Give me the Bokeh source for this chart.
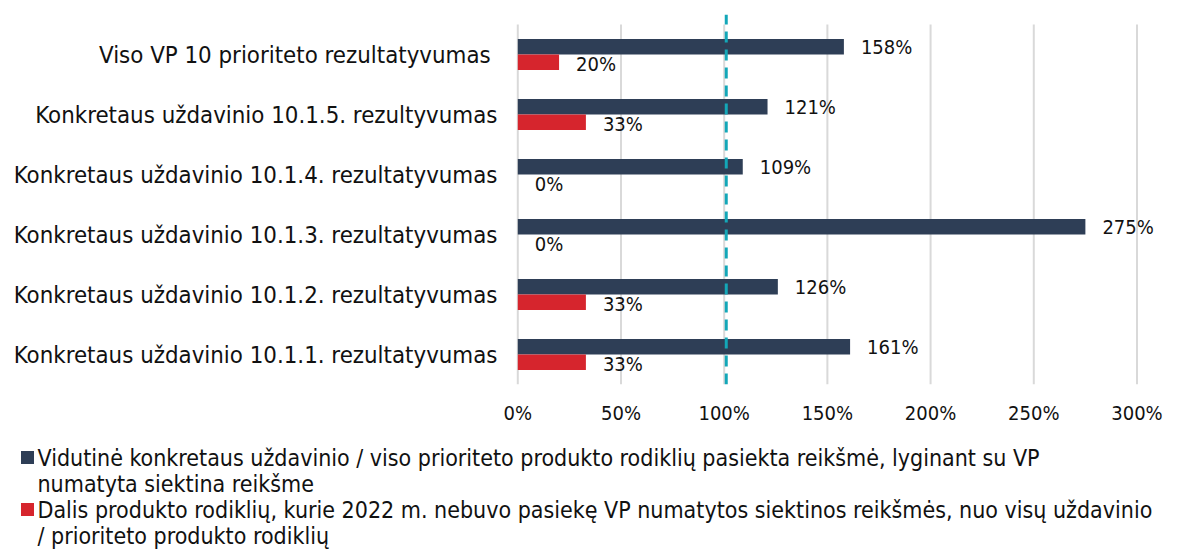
from bokeh.plotting import figure
from bokeh.models import Range1d, FixedTicker, ColumnDataSource
from bokeh.layouts import column
from bokeh.core.properties import value
from bokeh.embed import file_html
from bokeh.resources import INLINE

# ---- data (bottom to top) ----
categories = [
    "Konkretaus uždavinio 10.1.1. rezultatyvumas",
    "Konkretaus uždavinio 10.1.2. rezultatyvumas",
    "Konkretaus uždavinio 10.1.3. rezultatyvumas",
    "Konkretaus uždavinio 10.1.4. rezultatyvumas",
    "Konkretaus uždavinio 10.1.5. rezultyvumas",
    "Viso VP 10 prioriteto rezultatyvumas ",
]
avg_values = [161, 126, 275, 109, 121, 158]
share_values = [33, 33, 0, 0, 33, 20]
target_value = 101
x_ticks = [0, 50, 100, 150, 200, 250, 300]
x_tick_labels = ["0%", "50%", "100%", "150%", "200%", "250%", "300%"]
legend_labels = [
    "Vidutinė konkretaus uždavinio / viso prioriteto produkto rodiklių pasiekta reikšmė, lyginant su VP\nnumatyta siektina reikšme",
    "Dalis produkto rodiklių, kurie 2022 m. nebuvo pasiekę VP numatytos siektinos reikšmės, nuo visų uždavinio\n/ prioriteto produkto rodiklių",
]

DARK = "#2E3E56"
RED = "#D6252D"
TEAL = "#13A7B8"
GRID = "#D9D9D9"
FONT = "DejaVu Sans Condensed"
TXT = "#111111"

W = 1179
H_MAIN = 438
H_LEG = 113

ypos = list(range(len(categories)))
bar_h = 0.26

src = ColumnDataSource(dict(
    y_dark=[y + 0.13 for y in ypos],
    y_red=[y - 0.13 for y in ypos],
    y_dark_lbl=[y + 0.12 for y in ypos],
    y_red_lbl=[y - 0.16 for y in ypos],
    avg=avg_values,
    share=share_values,
    avg_txt=[f"{v}%" for v in avg_values],
    share_txt=[f"{v}%" for v in share_values],
))

p = figure(width=W, height=H_MAIN, output_backend="svg", toolbar_location=None,
           x_range=Range1d(-1.11, 320.6), y_range=Range1d(-0.5, 5.667),
           min_border_left=515, min_border_right=0, min_border_top=14, min_border_bottom=54)
p.outline_line_color = None
p.xgrid.visible = False
p.ygrid.visible = False
p.frame_align = False

# gridlines
p.segment(x0=x_ticks, x1=x_ticks, y0=[-0.5] * len(x_ticks), y1=[5.5] * len(x_ticks),
          line_color=GRID, line_width=2)

p.hbar(y="y_dark", right="avg", left=0, height=bar_h, source=src, fill_color=DARK,
       line_color=None)
p.hbar(y="y_red", right="share", left=0, height=bar_h, source=src, fill_color=RED,
       line_color=None)

# target line
p.segment(x0=[target_value], x1=[target_value], y0=[-0.5], y1=[5.667],
          line_color=TEAL, line_width=3, line_dash="11 7")

p.text(x="avg", y="y_dark_lbl", text="avg_txt", source=src, x_offset=17,
       text_baseline="middle", text_align="left", text_font=value(FONT),
       text_font_size="20px", text_color=TXT)
p.text(x="share", y="y_red_lbl", text="share_txt", source=src, x_offset=17,
       text_baseline="middle", text_align="left", text_font=value(FONT),
       text_font_size="20px", text_color=TXT)

for ax in (p.xaxis[0], p.yaxis[0]):
    ax.axis_line_color = None
    ax.major_tick_line_color = None
    ax.minor_tick_line_color = None
    ax.major_label_text_color = TXT

p.xaxis.ticker = FixedTicker(ticks=x_ticks)
p.xaxis.major_label_overrides = {t: l for t, l in zip(x_ticks, x_tick_labels)}
p.xaxis.major_label_text_font = FONT
p.xaxis.major_label_text_font_size = "20px"
p.xaxis.major_label_standoff = 10

p.yaxis.ticker = FixedTicker(ticks=ypos)
p.yaxis.major_label_overrides = {y: c for y, c in zip(ypos, categories)}
p.yaxis.major_label_text_font = FONT
p.yaxis.major_label_text_font_size = "23.8px"
p.yaxis.major_label_standoff = 12

# ---- legend figure ----
lg = figure(width=W, height=H_LEG, output_backend="svg", toolbar_location=None,
            x_range=Range1d(0, W), y_range=Range1d(H_LEG, 0),
            min_border=0, min_border_left=0, min_border_right=0,
            min_border_top=0, min_border_bottom=0)
lg.axis.visible = False
lg.grid.visible = False
lg.outline_line_color = None
lg.frame_align = False

colors = [DARK, RED]
line_step = 26
first_mid = 19
lx, ly, lt = [], [], []
sq_y = []
row = 0
for lab in legend_labels:
    lines = lab.split("\n")
    sq_y.append(first_mid + row * line_step)
    for ln in lines:
        lx.append(37)
        ly.append(first_mid + row * line_step)
        lt.append(ln)
        row += 1

lg.rect(x=[27] * len(colors), y=sq_y, width=13, height=13, fill_color=colors,
        line_color=None)
lg.text(x=lx, y=ly, text=lt, text_baseline="middle", text_align="left",
        text_font=value(FONT), text_font_size="23px", text_color=TXT)

layout = column(p, lg)
open("out.html", "w").write(file_html(layout, INLINE))
